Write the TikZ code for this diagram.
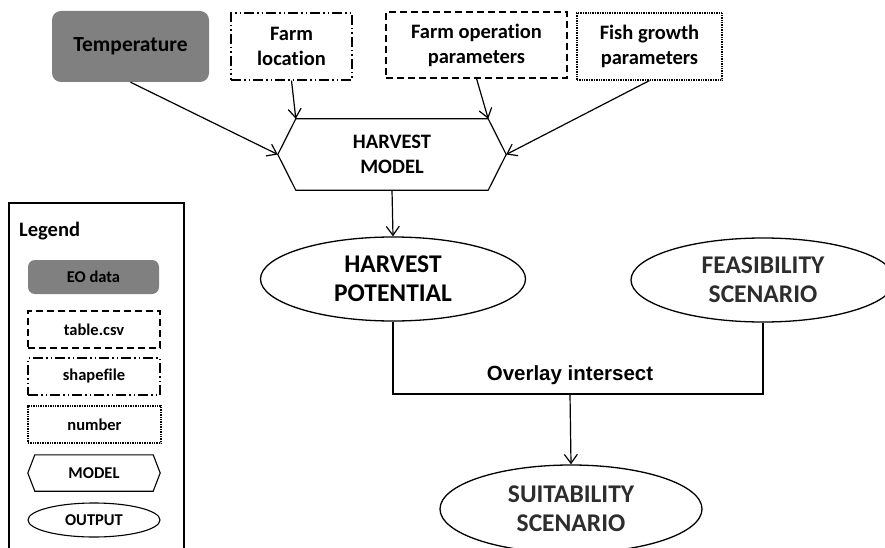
\documentclass[tikz,border=0pt]{standalone}
\usepackage{fontspec}
\setmainfont{Carlito}[Ligatures=NoCommon]
\newfontfamily\arialfont{Liberation Sans}
\usetikzlibrary{shapes.geometric,arrows.meta}
\definecolor{eogray}{RGB}{128,128,128}
\definecolor{outgray}{RGB}{45,45,45}
\tikzset{
  boxtext/.style={font=\fontsize{20.5}{25}\selectfont\bfseries, align=center, inner sep=0pt},
  legtext/.style={font=\fontsize{16.5}{20}\selectfont\bfseries, align=center, inner sep=0pt},
  outtext/.style={font=\fontsize{25.5}{29}\selectfont\bfseries, align=center, inner sep=0pt},
  eobox/.style={fill=eogray, rounded corners=9pt},
  csvbox/.style={draw, line width=1.1pt, dash pattern=on 7pt off 4pt},
  shpbox/.style={draw, line width=1.1pt, dash pattern=on 10pt off 3pt on 1.5pt off 3pt on 1.5pt off 3pt},
  numbox/.style={draw, line width=1.1pt, dash pattern=on 0.8pt off 0.9pt},
  outell/.style={draw, ellipse, line width=1.3pt},
  link/.style={->, line width=1.2pt},
}
\begin{document}
\begin{tikzpicture}[x=1pt, y=-1pt, >={Straight Barb[length=9pt,width=13pt]}]
    \clip (0,0) rectangle (885,548);
    \fill[white] (0,0) rectangle (885,548);

    % inputs
    \node[eobox, boxtext, font=\fontsize{21.5}{25}\selectfont\bfseries, minimum width=157, minimum height=71] (temp) at (130.5,46.5) {Temperature};
    \node[shpbox, boxtext, minimum width=121, minimum height=67] (loc) at (291.5,46.5) {Farm\\location};
    \node[csvbox, boxtext, minimum width=181, minimum height=66] (oper) at (476.5,45) {Farm operation\\parameters};
    \node[numbox, boxtext, minimum width=145, minimum height=67] (fish) at (649.5,46.5) {Fish growth\\parameters};

    % model
    \node[boxtext, minimum width=192, minimum height=71] (model) at (392,154.5) {HARVEST\\MODEL};
    \coordinate (modelW) at ([xshift=-18pt]model.west);
    \coordinate (modelE) at ([xshift=18pt]model.east);
    \draw[line width=1.2pt] (model.north west) -- (model.north east) -- (modelE) -- (model.south east)
        -- (model.south west) -- (modelW) -- cycle;

    \draw[link] (temp.south) -- (modelW);
    \draw[link] (loc.south) -- (model.north west);
    \draw[link] (oper.south) -- (model.north east);
    \draw[link] (fish.south) -- (modelE);

    % outputs
    \node[outell, outtext, minimum width=265, minimum height=84] (pot) at (393,279) {HARVEST\\POTENTIAL};
    \node[outell, outtext, text=outgray, minimum width=264, minimum height=84] (feas) at (763,280) {FEASIBILITY\\SCENARIO};
    \node[outell, outtext, text=outgray, minimum width=262, minimum height=88] (suit) at (571,509) {SUITABILITY\\SCENARIO};
    \draw[link] (model.south) -- (pot.north);

    \coordinate (join) at (570,394);
    \draw[line width=1.8pt] (pot.south) |- (join) -| (feas.south);
    \node[font=\arialfont\fontsize{20.5}{24}\selectfont\bfseries, inner sep=0pt] (overlay) at (570,375) {Overlay intersect};
    \draw[link] (join) -- (suit.north);

    % legend
    \draw[line width=1.2pt] (9,203) rectangle (184,560);
    \node[font=\fontsize{20.5}{24}\selectfont\bfseries, anchor=west, inner sep=0pt] (legend) at (19,231) {Legend};
    \node[eobox, legtext, rounded corners=7pt, minimum width=131, minimum height=34] (leo) at (93.5,277) {EO data};
    \node[csvbox, legtext, minimum width=132, minimum height=37] (lcsv) at (94,329.5) {table.csv};
    \node[shpbox, legtext, minimum width=132, minimum height=37] (lshp) at (94,376.5) {shapefile};
    \node[numbox, legtext, minimum width=133, minimum height=37] (lnum) at (94.5,424.5) {number};
    \node[legtext, minimum width=118, minimum height=36] (lmodel) at (94,473) {MODEL};
    \coordinate (lmodelW) at ([xshift=-7pt]lmodel.west);
    \coordinate (lmodelE) at ([xshift=7pt]lmodel.east);
    \draw[line width=1.1pt] (lmodel.north west) -- (lmodel.north east) -- (lmodelE) -- (lmodel.south east)
        -- (lmodel.south west) -- (lmodelW) -- cycle;
    \node[outell, legtext, line width=1.1pt, minimum width=132, minimum height=34] (lout) at (94,520) {OUTPUT};
\end{tikzpicture}
\end{document}
